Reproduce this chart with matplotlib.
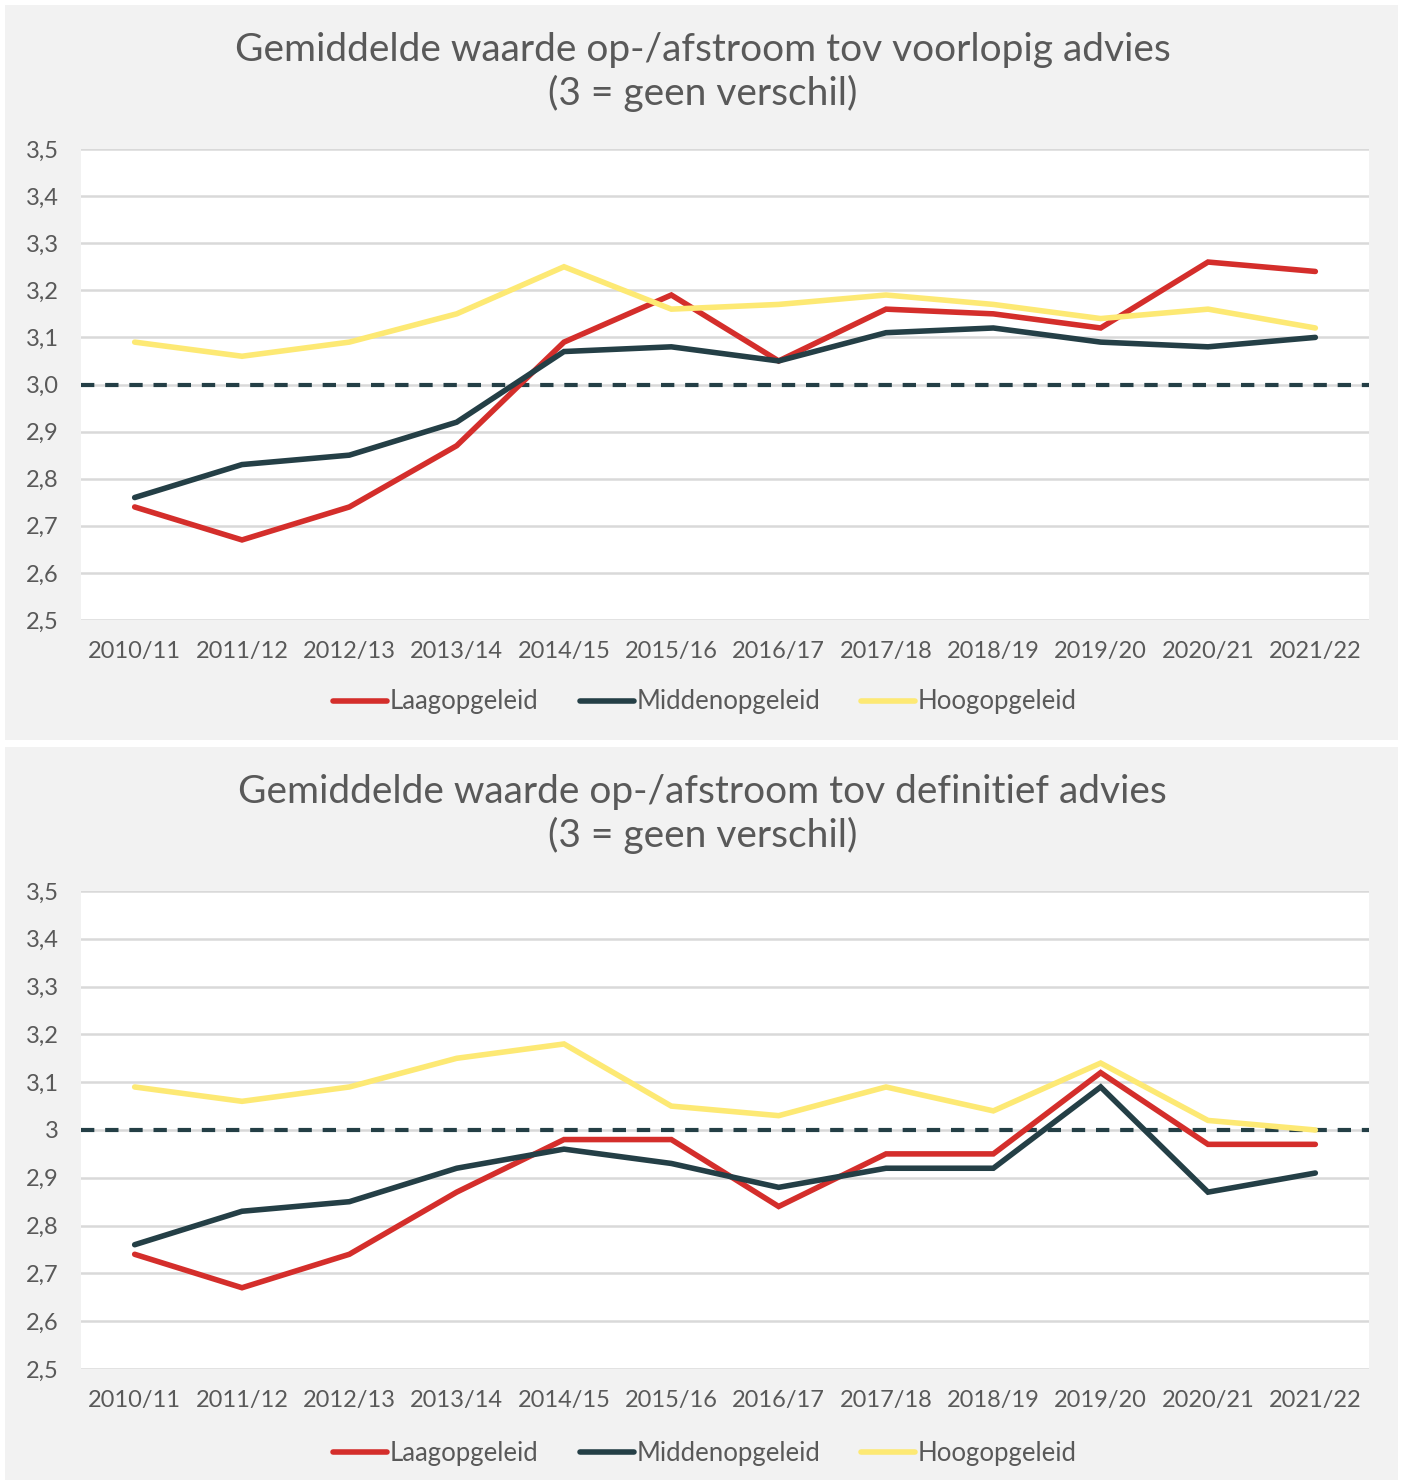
import matplotlib.pyplot as plt
from matplotlib.patches import Rectangle
from matplotlib.ticker import FuncFormatter

plt.rcParams['font.family'] = ['Lato', 'DejaVu Sans']

jaren = ['2010/11', '2011/12', '2012/13', '2013/14', '2014/15', '2015/16',
         '2016/17', '2017/18', '2018/19', '2019/20', '2020/21', '2021/22']
reeksen = ['Laagopgeleid', 'Middenopgeleid', 'Hoogopgeleid']

voorlopig_laag = [2.74, 2.67, 2.74, 2.87, 3.09, 3.19, 3.05, 3.16, 3.15, 3.12, 3.26, 3.24]
voorlopig_midden = [2.76, 2.83, 2.85, 2.92, 3.07, 3.08, 3.05, 3.11, 3.12, 3.09, 3.08, 3.10]
voorlopig_hoog = [3.09, 3.06, 3.09, 3.15, 3.25, 3.16, 3.17, 3.19, 3.17, 3.14, 3.16, 3.12]

definitief_laag = [2.74, 2.67, 2.74, 2.87, 2.98, 2.98, 2.84, 2.95, 2.95, 3.12, 2.97, 2.97]
definitief_midden = [2.76, 2.83, 2.85, 2.92, 2.96, 2.93, 2.88, 2.92, 2.92, 3.09, 2.87, 2.91]
definitief_hoog = [3.09, 3.06, 3.09, 3.15, 3.18, 3.05, 3.03, 3.09, 3.04, 3.14, 3.02, 3.00]

kleuren = ['#d42e2b', '#243f46', '#fde974']
grijs = '#595959'

W, H = 1402, 1483
fig = plt.figure(figsize=(W / 100, H / 100), dpi=100)


def px(x0, y0, x1, y1):
    # pixel box -> figure fraction
    return [x0 / W, 1 - y1 / H, (x1 - x0) / W, (y1 - y0) / H]


def paneel(bg, plot, titel, titel_y, data, fmt, legend_y):
    fig.patches.append(Rectangle((bg[0], bg[1]), bg[2], bg[3], transform=fig.transFigure,
                                 facecolor='#f2f2f2', edgecolor='none', zorder=-10))
    ax = fig.add_axes(plot)
    ax.set_facecolor('white')
    x = range(len(jaren))
    for naam, ys, c in zip(reeksen, data, kleuren):
        ax.plot(x, ys, color=c, lw=4, label=naam, solid_capstyle='round',
                solid_joinstyle='miter', zorder=3)
    ax.axhline(3.0, color='#243f46', lw=3, ls=(0, (3.2, 2.6)), zorder=2)
    ax.set_xlim(-0.5, len(jaren) - 0.5)
    ax.set_ylim(2.5, 3.5)
    ax.set_yticks([2.5 + i * 0.1 for i in range(11)])
    ax.yaxis.set_major_formatter(FuncFormatter(fmt))
    ax.set_xticks(list(x))
    ax.set_xticklabels(jaren)
    ax.grid(axis='y', color='#d9d9d9', lw=1.8, zorder=1)
    ax.set_axisbelow(True)
    for s in ax.spines.values():
        s.set_visible(False)
    ax.tick_params(length=0, labelsize=17, colors=grijs, pad=15)
    ax.tick_params(axis='y', pad=16)
    fig.text(0.501, titel_y, titel, fontsize=28, color=grijs, ha='center',
             va='center', linespacing=1.24, multialignment='center')
    fig.legend(*ax.get_legend_handles_labels(), loc='center', ncol=3,
               bbox_to_anchor=(0.503, legend_y), frameon=False, fontsize=18.5,
               labelcolor=grijs, handlelength=2.1, handletextpad=0.1,
               columnspacing=1.6)
    return ax


paneel(px(5, 5, 1398, 740), px(81, 149, 1369, 620),
       'Gemiddelde waarde op-/afstroom tov voorlopig advies\n(3 = geen verschil)',
       1 - 72 / H,
       [voorlopig_laag, voorlopig_midden, voorlopig_hoog],
       lambda v, p: f'{v:.1f}'.replace('.', ','), 1 - 702 / H)

paneel(px(5, 747, 1398, 1480), px(81, 891, 1369, 1369),
       'Gemiddelde waarde op-/afstroom tov definitief advies\n(3 = geen verschil)',
       1 - 814 / H,
       [definitief_laag, definitief_midden, definitief_hoog],
       lambda v, p: f'{round(v, 1):g}'.replace('.', ','), 1 - 1453 / H)

fig.savefig('out.png', dpi=100)
